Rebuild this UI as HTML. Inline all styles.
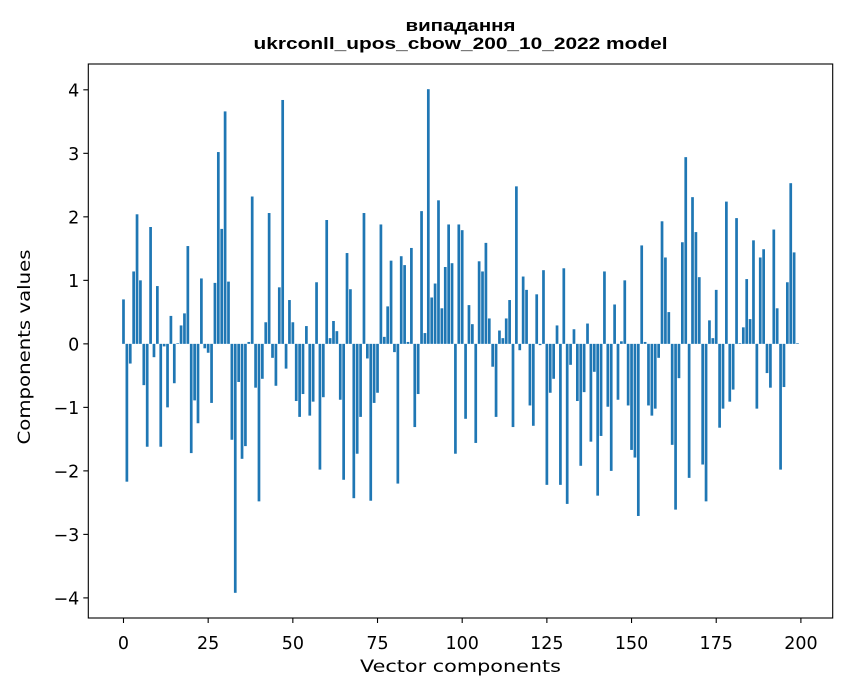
<!DOCTYPE html>
<html><head><meta charset="utf-8"><style>
body{margin:0;background:#fff;}
svg{display:block;font-family:"DejaVu Sans","Liberation Sans",sans-serif;}
</style></head><body>
<svg id="chart" width="847" height="696" viewBox="0 0 847 696" xmlns="http://www.w3.org/2000/svg">
<rect width="847" height="696" fill="#fff"/>
<text x="460.5" y="31" text-anchor="middle" font-size="17" font-weight="bold" font-family="Liberation Sans, sans-serif" textLength="110" lengthAdjust="spacingAndGlyphs">випадання</text>
<text x="460.5" y="49" text-anchor="middle" font-size="17" font-weight="bold" font-family="Liberation Sans, sans-serif" textLength="414" lengthAdjust="spacingAndGlyphs">ukrconll_upos_cbow_200_10_2022 model</text>
<g id="bars"></g>
<g id="xticks"></g>
<g id="yticks"></g>
<rect x="88.3" y="64" width="744.4" height="554" fill="none" stroke="#000" stroke-width="1.1"/>
<text x="460.5" y="672" text-anchor="middle" font-size="17" textLength="201" lengthAdjust="spacingAndGlyphs">Vector components</text>
<text transform="translate(30,347) rotate(-90)" text-anchor="middle" font-size="17" textLength="195" lengthAdjust="spacingAndGlyphs">Components values</text>
</svg>
<script>
const values = [
0.70,-2.17,-0.31,1.14,2.04,1.00,-0.65,-1.62,1.84,-0.21,
0.91,-1.62,-0.04,-1.00,0.44,-0.62,0.01,0.29,0.48,1.54,
-1.72,-0.89,-1.25,1.03,-0.07,-0.14,-0.93,0.96,3.02,1.81,
3.66,0.98,-1.51,-3.92,-0.60,-1.81,-1.61,0.03,2.32,-0.69,
-2.48,-0.55,0.34,2.06,-0.22,-0.66,0.89,3.84,-0.39,0.69,
0.34,-0.90,-1.15,-0.79,0.28,-1.13,-0.91,0.97,-1.98,-0.84,
1.95,0.09,0.36,0.20,-0.88,-2.14,1.43,0.86,-2.43,-1.73,
-1.15,2.06,-0.23,-2.47,-0.93,-0.77,1.88,0.11,0.59,1.31,
-0.13,-2.20,1.38,1.24,0.03,1.51,-1.31,-0.79,2.09,0.17,
4.01,0.73,0.95,2.26,0.56,1.21,1.88,1.27,-1.73,1.88,
1.79,-1.18,0.61,0.31,-1.56,1.30,1.14,1.59,0.40,-0.36,
-1.15,0.21,0.09,0.40,0.69,-1.31,2.48,-0.10,1.06,0.85,
-0.97,-1.29,0.78,-0.02,1.16,-2.22,-0.77,-0.55,0.29,-2.22,
1.19,-2.52,-0.33,0.23,-0.90,-1.92,-0.76,0.32,-1.54,-0.44,
-2.39,-1.45,1.14,-0.99,-2.00,0.62,-0.88,0.04,1.00,-0.97,
-1.67,-1.79,-2.71,1.55,0.03,-0.97,-1.13,-1.02,-0.22,1.93,
1.36,0.50,-1.59,-2.61,-0.54,1.60,2.94,-2.11,2.31,1.76,
1.05,-1.90,-2.48,0.37,0.09,0.85,-1.32,-1.02,2.24,-0.91,
-0.72,1.98,0.01,0.26,1.02,0.39,1.63,-1.02,1.36,1.49,
-0.46,-0.69,1.80,0.56,-1.98,-0.68,0.97,2.53,1.44,0.01
];
const xTickLabels = [0,25,50,75,100,125,150,175,200];
const yTickLabels = [-4,-3,-2,-1,0,1,2,3,4];

const NS="http://www.w3.org/2000/svg";
const L=88.3,R=832.7,T=64,B=618;
const n=values.length;
const xmin=-0.4-0.05*(n-1+0.8), xmax=n-1+0.4+0.05*(n-1+0.8);
let vmin=Math.min(0,...values), vmax=Math.max(0,...values);
const ymin=vmin-0.05*(vmax-vmin), ymax=vmax+0.05*(vmax-vmin);
function xs(v){return L+(v-xmin)/(xmax-xmin)*(R-L);}
function ys(v){return B-(v-ymin)/(ymax-ymin)*(B-T);}

const bars=document.getElementById('bars');
values.forEach((v,i)=>{
  const r=document.createElementNS(NS,'rect');
  const x0=xs(i-0.4),x1=xs(i+0.4);
  const y0=ys(Math.max(v,0)),y1=ys(Math.min(v,0));
  r.setAttribute('x',x0);r.setAttribute('width',x1-x0);
  r.setAttribute('y',y0);r.setAttribute('height',Math.max(y1-y0,0.01));
  r.setAttribute('fill','#1f77b4');
  
  
  bars.appendChild(r);
});
const xg=document.getElementById('xticks');
xTickLabels.forEach(t=>{
  const x=xs(t);
  const l=document.createElementNS(NS,'line');
  l.setAttribute('x1',x);l.setAttribute('x2',x);l.setAttribute('y1',B);l.setAttribute('y2',B+5);
  l.setAttribute('stroke','#000');l.setAttribute('stroke-width','1.1');
  
  
  xg.appendChild(l);
  const tx=document.createElementNS(NS,'text');
  tx.setAttribute('x',x);tx.setAttribute('y',B+31);tx.setAttribute('text-anchor','middle');tx.setAttribute('font-size','17.5');
  tx.textContent=String(t);
  
  
  xg.appendChild(tx);
});
const yg=document.getElementById('yticks');
yTickLabels.forEach(t=>{
  const y=ys(t);
  const l=document.createElementNS(NS,'line');
  l.setAttribute('x1',L-5);l.setAttribute('x2',L);l.setAttribute('y1',y);l.setAttribute('y2',y);
  l.setAttribute('stroke','#000');l.setAttribute('stroke-width','1.1');
  
  
  yg.appendChild(l);
  const tx=document.createElementNS(NS,'text');
  tx.setAttribute('x',L-9);tx.setAttribute('y',y+6.5);tx.setAttribute('text-anchor','end');tx.setAttribute('font-size','17.5');
  tx.textContent=(t<0?'\u2212':'')+Math.abs(t);
  
  
  yg.appendChild(tx);
});
</script>
</body></html>
